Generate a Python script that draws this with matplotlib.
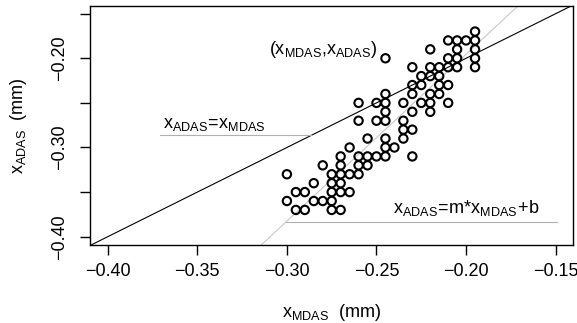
import matplotlib
matplotlib.use("Agg")
import matplotlib.pyplot as plt
import numpy as np

plt.rcParams['font.family'] = ['Liberation Sans', 'DejaVu Sans']
plt.rcParams['mathtext.fontset'] = 'custom'
plt.rcParams['mathtext.rm'] = 'Liberation Sans'
plt.rcParams['mathtext.it'] = 'Liberation Sans'

# data: (x_MDAS, x_ADAS) in mm, grouped by x_ADAS rows
rows = {
    -0.17: [-0.195],
    -0.18: [-0.21, -0.205, -0.20, -0.195],
    -0.19: [-0.22, -0.205, -0.195],
    -0.20: [-0.245, -0.21, -0.205, -0.195],
    -0.21: [-0.23, -0.22, -0.215, -0.21, -0.205, -0.195],
    -0.22: [-0.225, -0.22, -0.215],
    -0.23: [-0.23, -0.225, -0.215, -0.21],
    -0.24: [-0.245, -0.23, -0.22, -0.215],
    -0.25: [-0.26, -0.25, -0.245, -0.235, -0.225, -0.22, -0.21],
    -0.26: [-0.245, -0.23, -0.22],
    -0.27: [-0.26, -0.25, -0.245, -0.235],
    -0.28: [-0.235, -0.23],
    -0.29: [-0.255, -0.245, -0.235],
    -0.30: [-0.265, -0.245, -0.24],
    -0.31: [-0.27, -0.26, -0.255, -0.25, -0.245, -0.23],
    -0.32: [-0.28, -0.27, -0.26, -0.255],
    -0.33: [-0.30, -0.275, -0.27, -0.265, -0.26],
    -0.34: [-0.285, -0.275, -0.27],
    -0.35: [-0.295, -0.29, -0.275, -0.27, -0.265],
    -0.36: [-0.30, -0.285, -0.28, -0.275],
    -0.37: [-0.295, -0.29, -0.275, -0.27],
}
x_mdas = [x for y, xs in rows.items() for x in xs]
x_adas = [y for y, xs in rows.items() for x in xs]

fit_m = 1.87
fit_b = 0.1785

x_ticks = [-0.40, -0.35, -0.30, -0.25, -0.20, -0.15]
y_ticks = [-0.40, -0.35, -0.30, -0.25, -0.20, -0.15]
y_ticklabels = ['\u22120.40', '', '\u22120.30', '', '\u22120.20', '']
x_ticklabels = ['\u22120.40', '\u22120.35', '\u22120.30', '\u22120.25', '\u22120.20', '\u22120.15']

fig = plt.figure(figsize=(5.77, 3.23), dpi=100)
ax = fig.add_axes([0.156, 0.2415, 0.8365, 0.7399])
ax.set_xlim(-0.4099, -0.1405)
ax.set_ylim(-0.4093, -0.1414)

ax.scatter(x_mdas, x_adas, s=36, facecolors='none', edgecolors='black', linewidths=1.5, zorder=3)
ax.axline((0, 0), slope=1, color='black', lw=0.8, zorder=2)
ax.axline((0, fit_b), slope=fit_m, color='#c8c8c8', lw=0.8, zorder=1)

# annotation guide lines
y1 = -0.286
ax.plot([-0.371, y1], [y1, y1], color='#b0b0b0', lw=0.8)
y2 = -0.383
ax.plot([(y2 - fit_b) / fit_m, -0.149], [y2, y2], color='#b0b0b0', lw=0.8)

fs = 13
ax.text(-0.3691, -0.2785, r'$\mathrm{x_{ADAS}\!=\!x_{MDAS}}$', fontsize=fs, va='baseline', ha='left')
ax.text(-0.2406, -0.3738, r'$\mathrm{x_{ADAS}\!=\!m{*}x_{MDAS}\!+\!b}$', fontsize=fs, va='baseline', ha='left')
ax.text(-0.2499, -0.1955, r'$\mathrm{(x_{MDAS}{,}x_{ADAS})}$', fontsize=fs, va='baseline', ha='right')

ax.set_xticks(x_ticks)
ax.set_xticklabels(x_ticklabels)
ax.set_yticks(y_ticks)
ax.set_yticklabels(y_ticklabels, rotation=90, va='center')
ax.tick_params(direction='out', length=7, width=1, labelsize=fs)
ax.tick_params(axis='x', pad=6)
ax.tick_params(axis='y', pad=9)
for s in ax.spines.values():
    s.set_linewidth(1)

ax.set_xlabel(r'$\mathrm{x_{MDAS}}$  (mm)', fontsize=fs, labelpad=16)
ax.set_ylabel(r'$\mathrm{x_{ADAS}}$  (mm)', fontsize=fs, labelpad=16)

fig.savefig('out.png', dpi=100)
